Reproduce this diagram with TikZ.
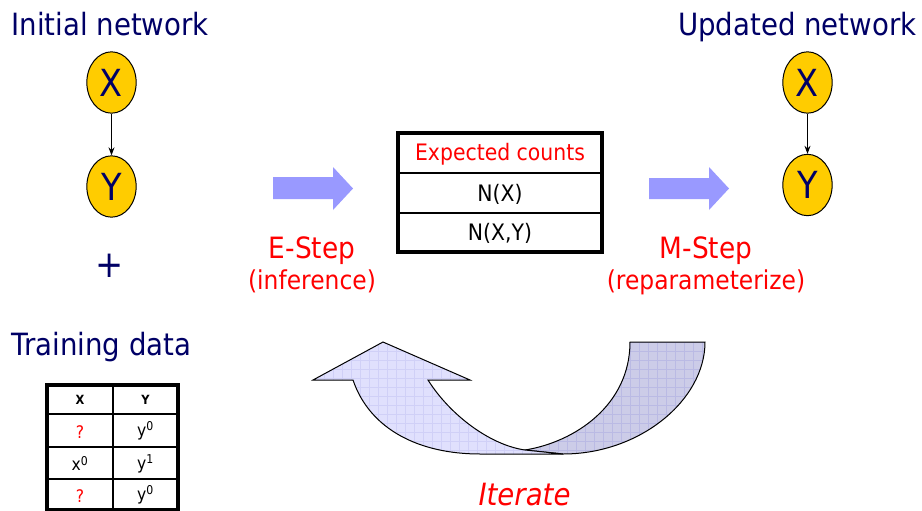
\documentclass[tikz,border=0pt]{standalone}
\usepackage{fontspec}
\setmainfont{DejaVu Sans}[FakeStretch=0.9]
\usetikzlibrary{shapes.geometric,arrows.meta}

\definecolor{navy}{RGB}{0,0,102}
\definecolor{nodegold}{RGB}{255,204,0}
\definecolor{stepblue}{RGB}{153,153,255}
\definecolor{loopfront}{RGB}{224,224,253}
\definecolor{loopback}{RGB}{204,204,232}
\definecolor{gridfront}{RGB}{208,208,247}
\definecolor{gridback}{RGB}{186,186,228}

\tikzset{every picture/.style={line width=0.75pt}}
\tikzset{
  varnode/.style={ellipse, draw=black, fill=nodegold, text=navy, minimum width=37pt, minimum height=46pt, inner sep=0pt, font=\fontsize{28}{28}\selectfont},
  heading/.style={text=navy, inner sep=0pt, font=\fontsize{23}{23}\selectfont},
  steplabel/.style={text=red, inner sep=0pt, font=\fontsize{22}{22}\selectfont},
  stepnote/.style={text=red, inner sep=0pt, font=\fontsize{19.5}{19.5}\selectfont},
  counttext/.style={inner sep=0pt, font=\fontsize{17}{17}\selectfont},
  celltext/.style={inner sep=0pt, font=\fontsize{13}{13}\selectfont},
  headtext/.style={inner sep=0pt, font=\fontsize{9.5}{9.5}\selectfont\bfseries},
  edge/.style={-{Stealth[length=6pt,width=4.5pt]}, line width=0.8pt},
}

\begin{document}
\begin{tikzpicture}[x=0.75pt,y=0.75pt,yscale=-1,xscale=1]
\useasboundingbox (0,0) rectangle (922,511);

% Text Node
\node [heading, anchor=base west] (initial) at (11,35) {Initial network};
% Text Node
\node [heading, anchor=base east] (updated) at (917,35) {Updated network};
% Text Node
\node [heading, anchor=base west] (training) at (11,355) {Training data};

%Shape: Ellipse initial network
\node [varnode] (xl) at (111.5,82.5) {X};
\node [varnode] (yl) at (111.5,186.5) {Y};
\draw [edge] (xl) -- (yl);
% Text Node
\node [text=navy, inner sep=0pt, font=\fontsize{28}{28}\selectfont] (plus) at (110,266) {+};

%Shape: Ellipse updated network
\node [varnode] (xr) at (807.5,82.5) {X};
\node [varnode] (yr) at (807.5,185) {Y};
\draw [edge] (xr) -- (yr);

%Shape: Arrow E-Step
\fill [stepblue] (273,177) -- (333,177) -- (333,167) -- (353,188.5) -- (333,210) -- (333,199) -- (273,199) -- cycle ;
%Shape: Arrow M-Step
\fill [stepblue] (649,178) -- (709,178) -- (709,167) -- (729,188.5) -- (709,210) -- (709,199) -- (649,199) -- cycle ;

% Text Node
\node [steplabel, anchor=base] (estep) at (312,258) {E-Step};
\node [stepnote, anchor=base] (einf) at (312,289) {(inference)};
% Text Node
\node [steplabel, anchor=base] (mstep) at (706,258) {M-Step};
\node [stepnote, anchor=base] (mrep) at (706,289) {(reparameterize)};

%Shape: Table expected counts
\draw [line width=1.5pt] (398,173) -- (602,173) (398,213) -- (602,213) ;
\draw [line width=2.4pt] (398,133) rectangle (602,252) ;
\node [counttext, text=red] (expected) at (500,154) {Expected counts};
\node [counttext] (nx) at (500,194) {N(X)};
\node [counttext] (nxy) at (500,233.5) {N(X,Y)};

%Shape: Table training data
\draw [line width=1.5pt] (113,385) -- (113,510) (47,414) -- (178,414) (47,447) -- (178,447) (47,479) -- (178,479) ;
\draw [line width=2.4pt] (47,385) rectangle (178,510) ;
\node [headtext] (hx) at (80,400) {X};
\node [headtext] (hy) at (145.5,400) {Y};
\node [celltext, text=red] (c1x) at (80,432) {?};
\node [celltext] (c1y) at (145.5,431) {y\textsuperscript{0}};
\node [celltext] (c2x) at (80,463.5) {x\textsuperscript{0}};
\node [celltext] (c2y) at (145.5,463.5) {y\textsuperscript{1}};
\node [celltext, text=red] (c3x) at (80,496) {?};
\node [celltext] (c3y) at (145.5,495) {y\textsuperscript{0}};

%Shape: Curved arrow, back part
\begin{scope}
\clip (630,342) -- (705,342) .. controls (705,400) and (640,454) .. (563,454) -- (525,450) .. controls (575,442) and (630,405) .. (630,342) -- cycle ;
\fill [loopback] (500,330) rectangle (720,470) ;
\draw [gridback, line width=0.4pt, step=9] (495,333) grid (720,470) ;
\end{scope}
\draw (630,342) -- (705,342) .. controls (705,400) and (640,454) .. (563,454) -- (525,450) .. controls (575,442) and (630,405) .. (630,342) -- cycle ;

%Shape: Curved arrow, front part
\begin{scope}
\clip (383,342) -- (470,380) -- (428,380) .. controls (450,415) and (490,445) .. (525,450) -- (563,454) -- (480,454) .. controls (420,454) and (370,430) .. (353,380) -- (313,380) -- cycle ;
\fill [loopfront] (300,330) rectangle (580,470) ;
\draw [gridfront, line width=0.4pt, step=9] (297,333) grid (580,470) ;
\end{scope}
\draw (383,342) -- (470,380) -- (428,380) .. controls (450,415) and (490,445) .. (525,450) -- (563,454) -- (480,454) .. controls (420,454) and (370,430) .. (353,380) -- (313,380) -- cycle ;

% Text Node
\node [text=red, inner sep=0pt, anchor=base, font=\fontsize{23}{23}\selectfont\itshape] (iterate) at (524.5,505) {Iterate};

\end{tikzpicture}
\end{document}
